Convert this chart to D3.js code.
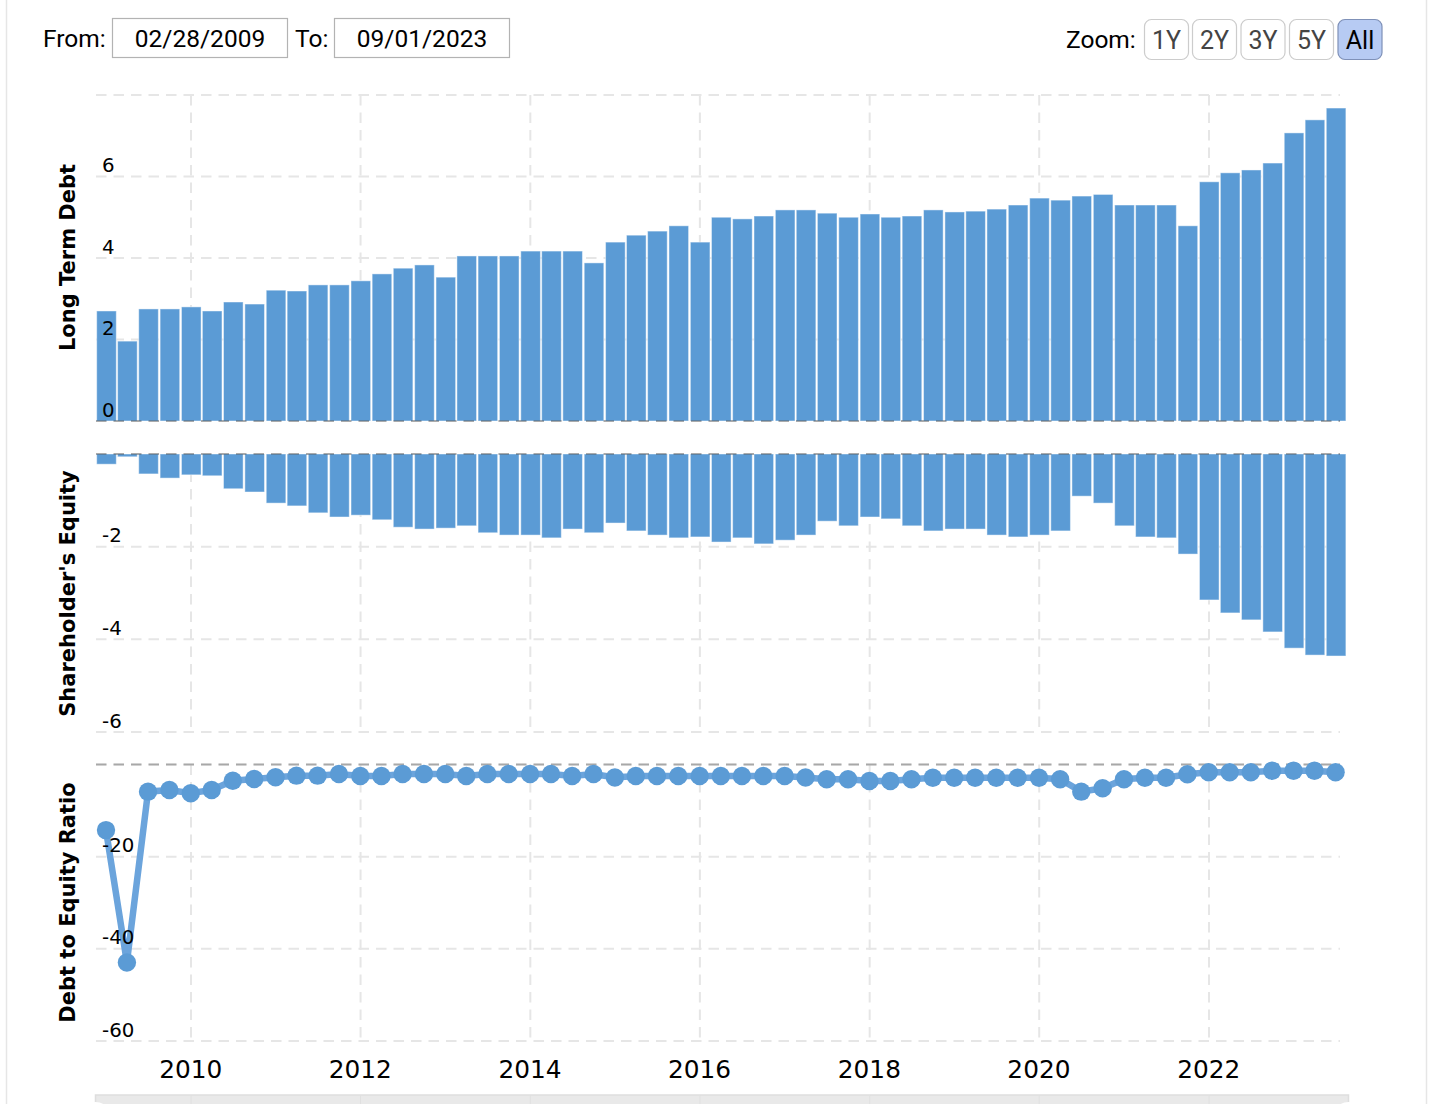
<!DOCTYPE html>
<html>
<head>
    <meta charset="utf-8">
    <title>Debt to Equity Ratio</title>
    <script src="https://d3js.org/d3.v7.min.js"></script>
    <style>
        html, body { margin: 0; padding: 0; background: #fff; }
        svg { display: block; }
        .ui-text { font-family: Roboto, sans-serif; font-size: 24.5px; fill: #000; }
        .range-text { font-family: Roboto, sans-serif; font-size: 25px; fill: #444; }
        .tick-label text { font-family: 'DejaVu Sans', sans-serif; font-size: 19.8px; fill: #000; }
        .year-label text { font-family: 'DejaVu Sans', sans-serif; font-size: 24.8px; fill: #000; }
        .axis-title { font-family: 'DejaVu Sans', sans-serif; font-size: 21px; font-weight: bold; fill: #000; }
        .grid line { stroke: #e6e6e6; stroke-width: 2; stroke-dasharray: 10.5 7; }
        .grid path, .tick-label path, .year-label path { display: none; }
    </style>
</head>
<body>
<script>

var quarterDates = [
    '2008-12-31',
    '2009-03-31', '2009-06-30', '2009-09-30', '2009-12-31',
    '2010-03-31', '2010-06-30', '2010-09-30', '2010-12-31',
    '2011-03-31', '2011-06-30', '2011-09-30', '2011-12-31',
    '2012-03-31', '2012-06-30', '2012-09-30', '2012-12-31',
    '2013-03-31', '2013-06-30', '2013-09-30', '2013-12-31',
    '2014-03-31', '2014-06-30', '2014-09-30', '2014-12-31',
    '2015-03-31', '2015-06-30', '2015-09-30', '2015-12-31',
    '2016-03-31', '2016-06-30', '2016-09-30', '2016-12-31',
    '2017-03-31', '2017-06-30', '2017-09-30', '2017-12-31',
    '2018-03-31', '2018-06-30', '2018-09-30', '2018-12-31',
    '2019-03-31', '2019-06-30', '2019-09-30', '2019-12-31',
    '2020-03-31', '2020-06-30', '2020-09-30', '2020-12-31',
    '2021-03-31', '2021-06-30', '2021-09-30', '2021-12-31',
    '2022-03-31', '2022-06-30', '2022-09-30', '2022-12-31',
    '2023-03-31', '2023-06-30'
];

var longTermDebt = [
    2.70, 1.96, 2.75, 2.75, 2.80, 2.70, 2.92, 2.87, 3.21, 3.19,
    3.34, 3.34, 3.44, 3.61, 3.75, 3.83, 3.53, 4.05, 4.05, 4.05,
    4.17, 4.17, 4.17, 3.88, 4.39, 4.56, 4.66, 4.79, 4.39, 5.00,
    4.96, 5.03, 5.18, 5.18, 5.10, 5.00, 5.08, 5.00, 5.03, 5.18,
    5.13, 5.15, 5.20, 5.30, 5.47, 5.42, 5.52, 5.56, 5.30, 5.30,
    5.30, 4.79, 5.87, 6.09, 6.16, 6.33, 7.07, 7.39, 7.68
];

var shareholderEquity = [
    -0.22, -0.06, -0.43, -0.52, -0.45, -0.47, -0.75, -0.82, -1.06, -1.12,
    -1.27, -1.36, -1.32, -1.42, -1.58, -1.62, -1.60, -1.55, -1.70, -1.75,
    -1.75, -1.81, -1.62, -1.70, -1.49, -1.66, -1.75, -1.81, -1.79, -1.90,
    -1.81, -1.94, -1.86, -1.75, -1.45, -1.55, -1.36, -1.40, -1.55, -1.66,
    -1.62, -1.62, -1.75, -1.79, -1.75, -1.66, -0.91, -1.06, -1.55, -1.79,
    -1.81, -2.16, -3.15, -3.43, -3.58, -3.84, -4.19, -4.34, -4.36
];

var debtToEquity = [
    -14.24, -42.97, -5.89, -5.52, -6.23, -5.52, -3.51, -3.14, -2.77, -2.42,
    -2.42, -2.06, -2.49, -2.49, -2.06, -2.06, -2.06, -2.49, -2.06, -2.06,
    -2.06, -2.06, -2.49, -2.06, -2.81, -2.49, -2.49, -2.49, -2.49, -2.49,
    -2.49, -2.49, -2.49, -2.81, -3.20, -3.20, -3.57, -3.57, -3.20, -2.86,
    -2.86, -2.86, -2.86, -2.86, -2.86, -3.20, -5.89, -5.15, -3.20, -2.86,
    -2.86, -2.12, -1.69, -1.69, -1.69, -1.34, -1.34, -1.34, -1.69
];

var yearTicks = [2010, 2012, 2014, 2016, 2018, 2020, 2022];
var debtGrid = [0, 2, 4, 6, 8];
var debtLabels = [0, 2, 4, 6];
var equityGrid = [0, -2, -4, -6];
var equityLabels = [-2, -4, -6];
var ratioGrid = [0, -20, -40, -60];
var ratioLabels = [-20, -40, -60];

var dateInputs = [{label: 'From:', value: '02/28/2009'}, {label: 'To:', value: '09/01/2023'}];
var zoomRanges = ['1Y', '2Y', '3Y', '5Y', 'All'];

var width = 1431;
var height = 1104;
var gridLeft = 96;
var gridRight = 1340;
var barWidth = 19.6;
var barShift = 0.5;

var dates = quarterDates.map(function(d) { return new Date(d + 'T00:00:00Z'); });
var yearDates = yearTicks.map(function(y) { return new Date(Date.UTC(y, 0, 1)); });

var x = d3.scaleUtc()
    .domain([yearDates[0], yearDates[yearDates.length - 1]])
    .range([191, 1209]);

var yDebt = d3.scaleLinear().domain([0, 8]).range([421, 95]);
var yEquity = d3.scaleLinear().domain([0, -6]).range([454, 732]);
var yRatio = d3.scaleLinear().domain([0, -60]).range([764.5, 1041]);

var svg = d3.select('body').append('svg')
    .attr('width', width)
    .attr('height', height);

// page frame
svg.selectAll('.frame')
    .data([6.5, 1426.5])
    .enter().append('line')
    .attr('class', 'frame')
    .attr('x1', function(d) { return d; })
    .attr('x2', function(d) { return d; })
    .attr('y1', 0)
    .attr('y2', height)
    .attr('stroke', '#e6e6e6')
    .attr('stroke-width', 1.5);

// date range inputs
var inputX = [{text: 43, box: 112}, {text: 295, box: 334}];
dateInputs.forEach(function(d, i) {
    svg.append('text').attr('class', 'ui-text')
        .attr('x', inputX[i].text).attr('y', 47).text(d.label);
    svg.append('rect')
        .attr('x', inputX[i].box + 0.5).attr('y', 18.5)
        .attr('width', 175).attr('height', 39)
        .attr('fill', '#fff').attr('stroke', '#b3b3b3').attr('stroke-width', 1.2);
    svg.append('text').attr('class', 'ui-text')
        .attr('x', inputX[i].box + 88).attr('y', 47)
        .attr('text-anchor', 'middle').text(d.value);
});

// zoom buttons
svg.append('text').attr('class', 'ui-text').attr('x', 1066).attr('y', 47.5).text('Zoom:');
var buttonX = [1144.5, 1192.5, 1241, 1289.5, 1338];
var buttons = svg.selectAll('.range-button')
    .data(zoomRanges)
    .enter().append('g')
    .attr('class', 'range-button')
    .attr('transform', function(d, i) { return 'translate(' + buttonX[i] + ',19.5)'; });
buttons.append('rect')
    .attr('width', 44)
    .attr('height', 40)
    .attr('rx', 7)
    .attr('fill', function(d) { return d === 'All' ? '#b7cbf3' : '#fff'; })
    .attr('stroke', function(d) { return d === 'All' ? '#7f91b8' : '#cccccc'; })
    .attr('stroke-width', 1.2);
buttons.append('text')
    .attr('class', 'range-text')
    .attr('x', 22)
    .attr('y', 29)
    .attr('text-anchor', 'middle')
    .style('fill', function(d) { return d === 'All' ? '#000' : '#444'; })
    .text(function(d) { return d; });

// grid behind the series
var drawGrid = function(scale, gridValues) {
    var range = scale.range();
    var top = Math.min(range[0], range[1]);
    var bottom = Math.max(range[0], range[1]);
    svg.append('g').attr('class', 'grid')
        .attr('transform', 'translate(0,' + top + ')')
        .call(d3.axisBottom(x).tickValues(yearDates).tickFormat('').tickSize(bottom - top).offset(0));
    svg.append('g').attr('class', 'grid')
        .attr('transform', 'translate(' + gridLeft + ',0)')
        .call(d3.axisLeft(scale).tickValues(gridValues).tickFormat('').tickSize(gridLeft - gridRight).offset(0));
};
drawGrid(yDebt, debtGrid);
drawGrid(yEquity, equityGrid);
drawGrid(yRatio, ratioGrid);

// bars
var drawBars = function(scale, values) {
    svg.append('g').selectAll('rect')
        .data(values)
        .enter().append('rect')
        .attr('x', function(d, i) { return x(dates[i]) - barWidth / 2 + barShift; })
        .attr('y', function(d) { return Math.min(scale(d), scale(0)); })
        .attr('width', barWidth)
        .attr('height', function(d) { return Math.abs(scale(d) - scale(0)); })
        .attr('fill', '#5b9bd5')
        .attr('stroke', '#fff')
        .attr('stroke-opacity', 0.45)
        .attr('stroke-width', 1);
};
drawBars(yDebt, longTermDebt);
drawBars(yEquity, shareholderEquity);

// zero lines sit on top of the bars
var zeroLines = [yDebt(0), yEquity(0), yRatio(0)];
svg.selectAll('.zero-line')
    .data(zeroLines)
    .enter().append('line')
    .attr('class', 'zero-line')
    .attr('x1', gridLeft)
    .attr('x2', gridRight)
    .attr('y1', function(d) { return d; })
    .attr('y2', function(d) { return d; })
    .attr('stroke', '#000')
    .attr('stroke-opacity', 0.27)
    .attr('stroke-width', 2)
    .attr('stroke-dasharray', '10.5 7');

// ratio line and markers
var ratioLine = d3.line()
    .x(function(d, i) { return x(dates[i]); })
    .y(function(d) { return yRatio(d); });

svg.append('path')
    .datum(debtToEquity)
    .attr('d', ratioLine)
    .attr('fill', 'none')
    .attr('stroke', '#6ba4dc')
    .attr('stroke-width', 6.5);

svg.append('g').selectAll('circle')
    .data(debtToEquity)
    .enter().append('circle')
    .attr('cx', function(d, i) { return x(dates[i]); })
    .attr('cy', function(d) { return yRatio(d); })
    .attr('r', 9.2)
    .attr('fill', '#5b9bd5');

// y tick labels, above their grid line
var drawLabels = function(scale, labels) {
    var axis = svg.append('g').attr('class', 'tick-label')
        .call(d3.axisLeft(scale).tickValues(labels).tickSize(0)
            .tickFormat(function(d) { return String(d); }));
    axis.selectAll('text')
        .attr('x', 102)
        .attr('y', -5)
        .attr('dy', 0)
        .attr('text-anchor', 'start');
};
drawLabels(yDebt, debtLabels);
drawLabels(yEquity, equityLabels);
drawLabels(yRatio, ratioLabels);

// axis titles
var axisTitles = [
    {text: 'Long Term Debt', y: 257.5},
    {text: "Shareholder's Equity", y: 593.5},
    {text: 'Debt to Equity Ratio', y: 902.5}
];
svg.selectAll('.axis-title')
    .data(axisTitles)
    .enter().append('text')
    .attr('class', 'axis-title')
    .attr('text-anchor', 'middle')
    .attr('transform', function(d) { return 'translate(74.5,' + d.y + ') rotate(-90)'; })
    .text(function(d) { return d.text; });

// year labels
var yearAxis = svg.append('g').attr('class', 'year-label')
    .attr('transform', 'translate(-0.8,1041)')
    .call(d3.axisBottom(x).tickValues(yearDates).tickSize(0).tickFormat(d3.utcFormat('%Y')));
yearAxis.selectAll('text').attr('y', 37).attr('dy', 0);

// navigator strip, cut off by the bottom of the page
svg.append('rect')
    .attr('x', 95.5).attr('y', 1095)
    .attr('width', 1253).attr('height', 20)
    .attr('fill', '#e9e9e9')
    .attr('stroke', '#dedede')
    .attr('stroke-width', 1.5);
svg.append('g').selectAll('line')
    .data(yearDates)
    .enter().append('line')
    .attr('x1', function(d) { return x(d); })
    .attr('x2', function(d) { return x(d); })
    .attr('y1', 1095)
    .attr('y2', height)
    .attr('stroke', '#e0e0e0');
svg.append('g').selectAll('circle')
    .data([95.5, 1348.5])
    .enter().append('circle')
    .attr('cx', function(d) { return d; })
    .attr('cy', 1118)
    .attr('r', 16)
    .attr('fill', '#fff');

</script>
</body>
</html>
